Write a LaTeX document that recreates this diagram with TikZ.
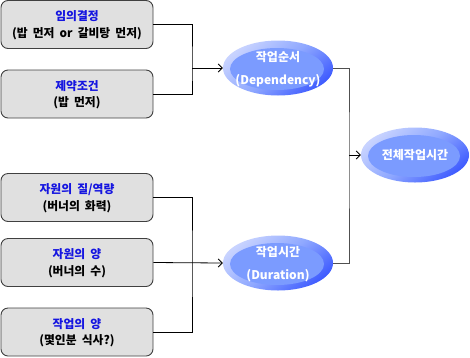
\documentclass[tikz,border=0pt]{standalone}
\usepackage{fontspec}
\setmainfont{Noto Sans CJK KR}[WordSpace=1.9]
\usetikzlibrary{shapes.geometric,arrows.meta}
\definecolor{boxfill}{HTML}{E0E0E0}
\definecolor{boxline}{HTML}{404040}
\definecolor{titleblue}{HTML}{1515E0}
\definecolor{rimlight}{HTML}{C8D3FF}
\definecolor{rimdark}{HTML}{3F5CFF}
\definecolor{rimmid}{HTML}{8FA8FF}
\definecolor{innerblue}{HTML}{7B9BFF}
\definecolor{wiregray}{HTML}{505050}
\tikzset{
  factor/.style={draw=boxline, line width=0.9pt, fill=boxfill, rounded corners=7pt,
    minimum width=152pt, minimum height=48pt, inner sep=0pt},
  factortext/.style={align=center, font=\bfseries\fontsize{11.8}{16.5}\selectfont},
  goal/.style={ellipse, minimum width=#1, minimum height=55pt, inner sep=0pt,
    top color=rimlight, bottom color=rimdark, middle color=rimmid, shading angle=40,
    path picture={\fill[innerblue] ([shift={(-1pt,-1pt)}]path picture bounding box.center) ellipse ({#1/2-8pt} and 21pt);}},
  goaltext/.style={text=white, align=center, font=\bfseries\fontsize{12}{22.5}\selectfont},
  wire/.style={line width=0.8pt, draw=black},
  wireg/.style={line width=0.8pt, draw=wiregray},
  tip/.style={-{Straight Barb[length=4pt,width=8pt]}}
}
\begin{document}
\begin{tikzpicture}[x=1pt,y=-1pt]
\useasboundingbox (0,0) rectangle (470,357);
\node[factor] (b1) at (77,24.5) {};
\node[factor] (b2) at (77,94) {};
\node[factor] (b3) at (77,197.5) {};
\node[factor] (b4) at (77,262.5) {};
\node[factor] (b5) at (77,332) {};
\foreach \b/\t/\s in {b1/임의결정/{(밥 먼저 or 갈비탕 먼저)}, b2/제약조건/{(밥 먼저)}, b3/{자원의 질/역량}/{(버너의 화력)}, b4/자원의 양/{(버너의 수)}, b5/작업의 양/{(몇인분 식사?)}}
  \node[factortext] (\b t) at ([yshift=-0.5pt]\b.center) {\textcolor{titleblue}{\t}\\\s};

\node[goal=110pt] (e1) at (278,68) {};
\node[goaltext] (e1t) at ([yshift=-1pt]e1.center) {작업순서\\(Dependency)};
\node[goal=110pt] (e2) at (278,263) {};
\node[goaltext] (e2t) at ([yshift=-1pt]e2.center) {작업시간\\(Duration)};
\node[goal=108pt] (e3) at (415,155) {};
\node[goaltext] (e3t) at (e3.center) {전체작업시간};

\coordinate (j1) at (192,68);
\coordinate (j2) at (192,262.5);
\coordinate (j3) at (349,155);

\draw[wire] (b1.east) -| (j1) |- (b2.east);
\draw[wire,tip] (j1) -- (e1.west);
\draw[wire] (b3.east) -| (j2) |- (b5.east);
\draw[wire,tip] (b4.east) -- (e2.west);
\draw[wireg] (e1.east) -| (j3) |- (e2.east);
\draw[wire,tip] (j3) -- (e3.west);
\end{tikzpicture}
\end{document}
